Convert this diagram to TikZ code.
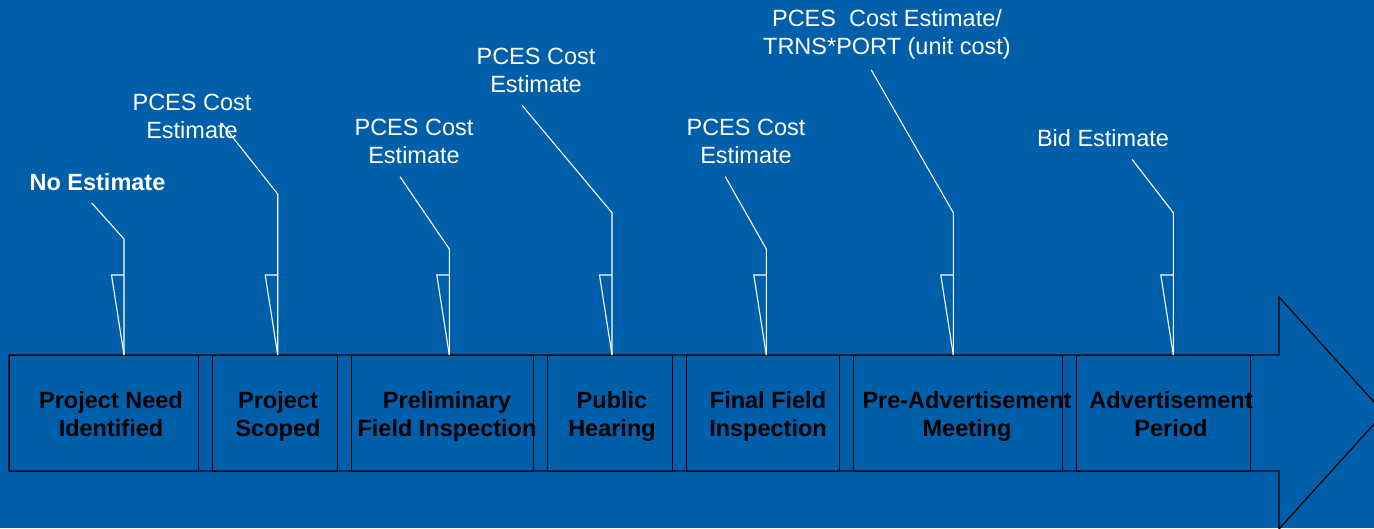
\documentclass[tikz,border=0pt]{standalone}
\usepackage{fontspec}
\setmainfont{Liberation Sans}
\definecolor{bgblue}{RGB}{0,95,170}
\begin{document}
\begin{tikzpicture}[x=1pt,y=-1pt,
  stagebox/.style={draw=black,line width=1.3pt,minimum height=116pt,inner sep=0pt,anchor=north west},
  stagetext/.style={text=black,font=\fontsize{23.5}{28}\selectfont\bfseries,align=center,inner sep=0pt},
  calltext/.style={text=white,font=\fontsize{23.5}{28}\selectfont,align=center,inner sep=0pt},
  callout/.style={draw=white,line width=1.1pt,line join=miter}]
\useasboundingbox (0,0) rectangle (1374,528);
\fill[bgblue] (0,0) rectangle (1374,528);
\clip (0,0) rectangle (1374,528);
% big arrow
\draw[line width=1.3pt,line join=miter] (9,355) -- (1279,355) -- (1279,297) -- (1384,413) -- (1279,529) -- (1279,471) -- (9,471) -- cycle;
% stage boxes
\foreach \i/\l/\r in {1/9/198,2/212/337,3/351/533,4/547/672,5/686/839,6/853/1062,7/1076/1250}{
  \node[stagebox,minimum width={(\r-\l)*1pt}] (b\i) at (\l,355) {};
}
\node[stagetext] (t1) at (111,417) {\strut Project Need\\\strut Identified};
\node[stagetext] (t2) at (278,417) {\strut Project\\\strut Scoped};
\node[stagetext] (t3) at (447,417) {\strut Preliminary\\\strut Field Inspection};
\node[stagetext] (t4) at (612,417) {\strut Public\\\strut Hearing};
\node[stagetext] (t5) at (768,417) {\strut Final Field\\\strut Inspection};
\node[stagetext] (t6) at (967,417) {\strut Pre-Advertisement\\\strut Meeting};
\node[stagetext] (t7) at (1171,417) {\strut Advertisement\\\strut Period};
% callout labels
\node[calltext,font=\fontsize{23.5}{28}\selectfont\bfseries] (l1) at (97.5,182) {No Estimate};
\node[calltext] (l2) at (192,116) {PCES Cost\\Estimate};
\node[calltext] (l3) at (414,141) {PCES Cost\\Estimate};
\node[calltext] (l4) at (536,70) {PCES Cost\\Estimate};
\node[calltext] (l5) at (746,141) {PCES Cost\\Estimate};
\node[calltext] (l6) at (887,34) {PCES\ \ Cost Estimate/\\TRNS*PORT (unit cost)};
\node[calltext] (l7) at (1103,138) {Bid Estimate};
% callout leaders
\foreach \i/\sx/\sy/\ex/\ey in {1/91.7/203/124/239, 2/221.7/123.3/277.7/194, 3/400/176.7/449.3/249, 4/522/105.3/612/212.7, 5/725.3/176.7/766.3/249, 6/871.3/70/953.3/212.7, 7/1132/159.3/1173.3/212.7}{
  \coordinate (s\i) at (\sx,\sy);
  \coordinate (e\i) at (\ex,\ey);
  \coordinate (f\i) at (\ex,355);
  \coordinate (v\i) at (\ex,275);
  \coordinate (w\i) at (\ex-12.5,275);
  \draw[callout] (s\i) -- (e\i) -- (f\i);
  \draw[callout] (v\i) -- (w\i) -- (f\i);
}
\end{tikzpicture}
\end{document}
